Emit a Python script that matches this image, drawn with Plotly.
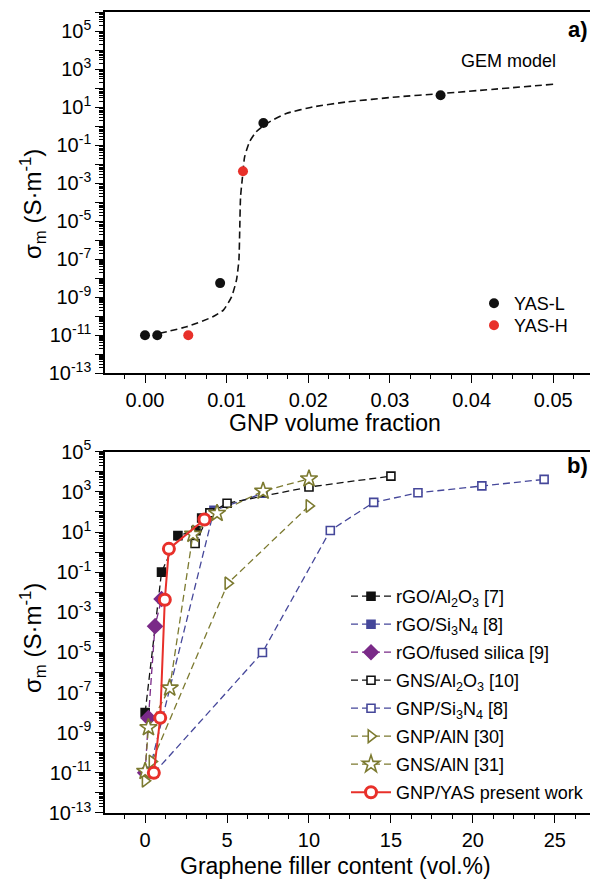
import plotly.graph_objects as go

# ---------------- panel a) data ----------------
yasl_x = [0.0, 0.0015, 0.0092, 0.0145, 0.0362]
yasl_y = [1e-11, 1e-11, 5.5e-9, 1.45, 42]
yash_x = [0.0053, 0.0120]
yash_y = [1e-11, 4.2e-3]
gem_x = [0.0018, 0.0051, 0.0083, 0.0096, 0.0106, 0.0112, 0.0115, 0.0116, 0.0117, 0.0119,
         0.0122, 0.0128, 0.0136, 0.0149, 0.0173, 0.0206, 0.0247, 0.0308, 0.0362, 0.0500]
gem_y = [1.26e-11, 2.8e-11, 9.3e-11, 2.1e-10, 1.05e-9, 7.9e-9, 8.9e-8, 3.4e-6, 1.9e-4, 1.45e-3,
         0.024, 0.148, 0.49, 1.38, 4.6, 10.2, 18.6, 34, 51, 158]

# ---------------- panel b) data ----------------
rgo_al2o3_x = [0.0, 1.0, 2.0, 3.1, 3.45]
rgo_al2o3_y = [1e-8, 0.1, 6.6, 11.7, 50]
rgo_si3n4_x = [0.25, 4.2, 7.2]
rgo_si3n4_y = [1.2e-11, 120, 850]
rgo_silica_x = [0.0, 0.2, 0.6, 1.0]
rgo_silica_y = [1e-11, 5.4e-9, 2e-4, 4.6e-3]
gns_al2o3_x = [3.05, 3.95, 5.0, 10.0, 15.0]
gns_al2o3_y = [2.7, 90, 270, 1750, 6100]
gnp_si3n4_x = [0.55, 7.16, 11.3, 13.95, 16.65, 20.55, 24.35]
gnp_si3n4_y = [1e-11, 1e-5, 12, 300, 900, 2000, 4200]
gnp_aln_x = [0.0, 0.42, 5.05, 10.0]
gnp_aln_y = [4e-12, 3.7e-11, 0.028, 200]
gns_aln_x = [0.0, 0.2, 1.5, 2.92, 4.39, 7.2, 10.0]
gns_aln_y = [1.2e-11, 1.8e-9, 1.7e-7, 7.8, 86, 1100, 4500]
yas_x = [0.53, 0.92, 1.2, 1.45, 3.62]
yas_y = [1e-11, 5.5e-9, 4.2e-3, 1.45, 42]

names_b = ["rGO/Al<sub>2</sub>O<sub>3</sub> [7]", "rGO/Si<sub>3</sub>N<sub>4</sub> [8]",
           "rGO/fused silica [9]", "GNS/Al<sub>2</sub>O<sub>3</sub> [10]",
           "GNP/Si<sub>3</sub>N<sub>4</sub> [8]", "GNP/AlN [30]", "GNS/AlN [31]",
           "GNP/YAS present work"]

FONT = "Liberation Sans, Arial, sans-serif"
BLACK = "#111111"
BLUE = "#45479A"
PURPLE = "#7A2A88"
OLIVE = "#7C7A30"
RED = "#E8302A"
DASH = "7px,4px"

fig = go.Figure()

# panel a
fig.add_trace(go.Scatter(x=gem_x, y=gem_y, mode="lines", line=dict(color=BLACK, width=1.6, dash=DASH,
                         shape="spline", smoothing=0.5), showlegend=False, xaxis="x", yaxis="y"))
fig.add_trace(go.Scatter(x=yasl_x, y=yasl_y, mode="markers", name="YAS-L",
                         marker=dict(color=BLACK, size=10), xaxis="x", yaxis="y", legend="legend2"))
fig.add_trace(go.Scatter(x=yash_x, y=yash_y, mode="markers", name="YAS-H",
                         marker=dict(color=RED, size=10), xaxis="x", yaxis="y", legend="legend3"))

# panel b
series = [
    (rgo_al2o3_x, rgo_al2o3_y, BLACK, "square", BLACK, 8),
    (rgo_si3n4_x, rgo_si3n4_y, BLUE, "square", BLUE, 8),
    (rgo_silica_x, rgo_silica_y, PURPLE, "diamond", PURPLE, 11),
    (gns_al2o3_x, gns_al2o3_y, BLACK, "square", "white", 8),
    (gnp_si3n4_x, gnp_si3n4_y, BLUE, "square", "white", 8),
    (gnp_aln_x, gnp_aln_y, OLIVE, "triangle-right", "white", 11),
    (gns_aln_x, gns_aln_y, OLIVE, "star", "white", 13),
]
for i, (xs, ys, col, sym, fill, sz) in enumerate(series):
    fig.add_trace(go.Scatter(
        x=xs, y=ys, mode="lines+markers", name=names_b[i],
        line=dict(color=col, width=1.3, dash=DASH),
        marker=dict(symbol=sym, size=sz, color=fill, line=dict(color=col, width=1.6)),
        xaxis="x2", yaxis="y2", legend="legend", legendgroup="g%d" % i))
fig.add_trace(go.Scatter(
    x=yas_x, y=yas_y, mode="lines+markers", name=names_b[7],
    line=dict(color=RED, width=2),
    marker=dict(symbol="circle", size=11, color="white", line=dict(color=RED, width=3)),
    xaxis="x2", yaxis="y2", legend="legend", legendgroup="g7"))

# ticks
def dec_text(lo, hi):
    vals, txt = [], []
    for e in range(lo, hi + 1):
        vals.append(10.0 ** e)
        txt.append("10<sup>%d</sup>" % e if e % 2 else "")
    return vals, txt

def minor_vals(lo, hi):
    out = []
    for e in range(lo, hi):
        for m in range(2, 10):
            out.append(m * 10.0 ** e)
    return out

tv1, tt1 = dec_text(-13, 6)
tv2, tt2 = dec_text(-13, 5)

axis_common = dict(showline=True, linecolor="black", linewidth=1.6, ticks="outside", ticklen=8,
                   tickwidth=1.4, tickcolor="black", showgrid=False, zeroline=False,
                   tickfont=dict(family=FONT, size=20, color="black"), automargin=False)

leg_font = dict(family=FONT, size=18, color="black")

fig.update_layout(
    width=590, height=881,
    margin=dict(l=105, r=0, t=12, b=68),
    paper_bgcolor="white", plot_bgcolor="white",
    xaxis=dict(domain=[0, 1], anchor="y", range=[-0.0049, 0.0545], dtick=0.01, tick0=0,
               tickformat=".2f", mirror=True,
               minor=dict(dtick=0.0025, tick0=0, ticks="outside", ticklen=4, tickwidth=1.2,
                          tickcolor="black"), **axis_common),
    yaxis=dict(domain=[0.549, 1], anchor="x", type="log", range=[-13, 6], tickmode="array",
               tickvals=tv1, ticktext=tt1,
               minor=dict(tickmode="array", tickvals=minor_vals(-13, 6), ticks="outside",
                          ticklen=4, tickwidth=1, tickcolor="black"), **axis_common),
    xaxis2=dict(domain=[0, 1], anchor="y2", range=[-2.45, 27.15], dtick=5, tick0=0, mirror=True,
                minor=dict(dtick=1.25, tick0=0, ticks="outside", ticklen=4, tickwidth=1.2,
                           tickcolor="black"), **axis_common),
    yaxis2=dict(domain=[0, 0.451], anchor="x2", type="log", range=[-13, 5], tickmode="array",
                tickvals=tv2, ticktext=tt2,
                minor=dict(tickmode="array", tickvals=minor_vals(-13, 5), ticks="outside",
                           ticklen=4, tickwidth=1, tickcolor="black"), **axis_common),
    legend=dict(x=(346 - 105) / 485, y=(813 - 578) / 801, xanchor="left", yanchor="top",
                bgcolor="rgba(0,0,0,0)", font=leg_font, tracegroupgap=1.6, itemwidth=40),
    legend2=dict(x=(474 - 105) / 485, y=(813 - 285) / 801, xanchor="left", yanchor="top",
                 bgcolor="rgba(0,0,0,0)", font=leg_font),
    legend3=dict(x=(474 - 105) / 485, y=(813 - 307) / 801, xanchor="left", yanchor="top",
                 bgcolor="rgba(0,0,0,0)", font=leg_font),
    font=dict(family=FONT, color="black"),
)

ann = [
    dict(text="GEM model", x=(459 - 105) / 485, y=(813 - 61) / 801, xanchor="left", yanchor="middle",
         font=dict(size=18)),
    dict(text="<b>a)</b>", x=1, y=(813 - 29) / 801, xanchor="right", yanchor="middle",
         font=dict(size=22)),
    dict(text="<b>b)</b>", x=1, y=(813 - 465) / 801, xanchor="right", yanchor="middle",
         font=dict(size=22)),
    dict(text="GNP volume fraction", x=(335 - 105) / 485, y=(813 - 423) / 801, xanchor="center",
         yanchor="middle", font=dict(size=23)),
    dict(text="Graphene filler content (vol.%)", x=(335 - 105) / 485, y=(813 - 866) / 801,
         xanchor="center", yanchor="middle", font=dict(size=23)),
    dict(text="σ<sub>m</sub> (S·m<sup>-1</sup>)", x=(33 - 105) / 485, y=(813 - 204) / 801,
         xanchor="center", yanchor="middle", textangle=-90, font=dict(size=24)),
    dict(text="σ<sub>m</sub> (S·m<sup>-1</sup>)", x=(33 - 105) / 485, y=(813 - 638) / 801,
         xanchor="center", yanchor="middle", textangle=-90, font=dict(size=24)),
]
for a in ann:
    a.update(xref="paper", yref="paper", showarrow=False)
    a["font"].update(family=FONT, color="black")
fig.update_layout(annotations=ann)

fig.write_html("out.html")
